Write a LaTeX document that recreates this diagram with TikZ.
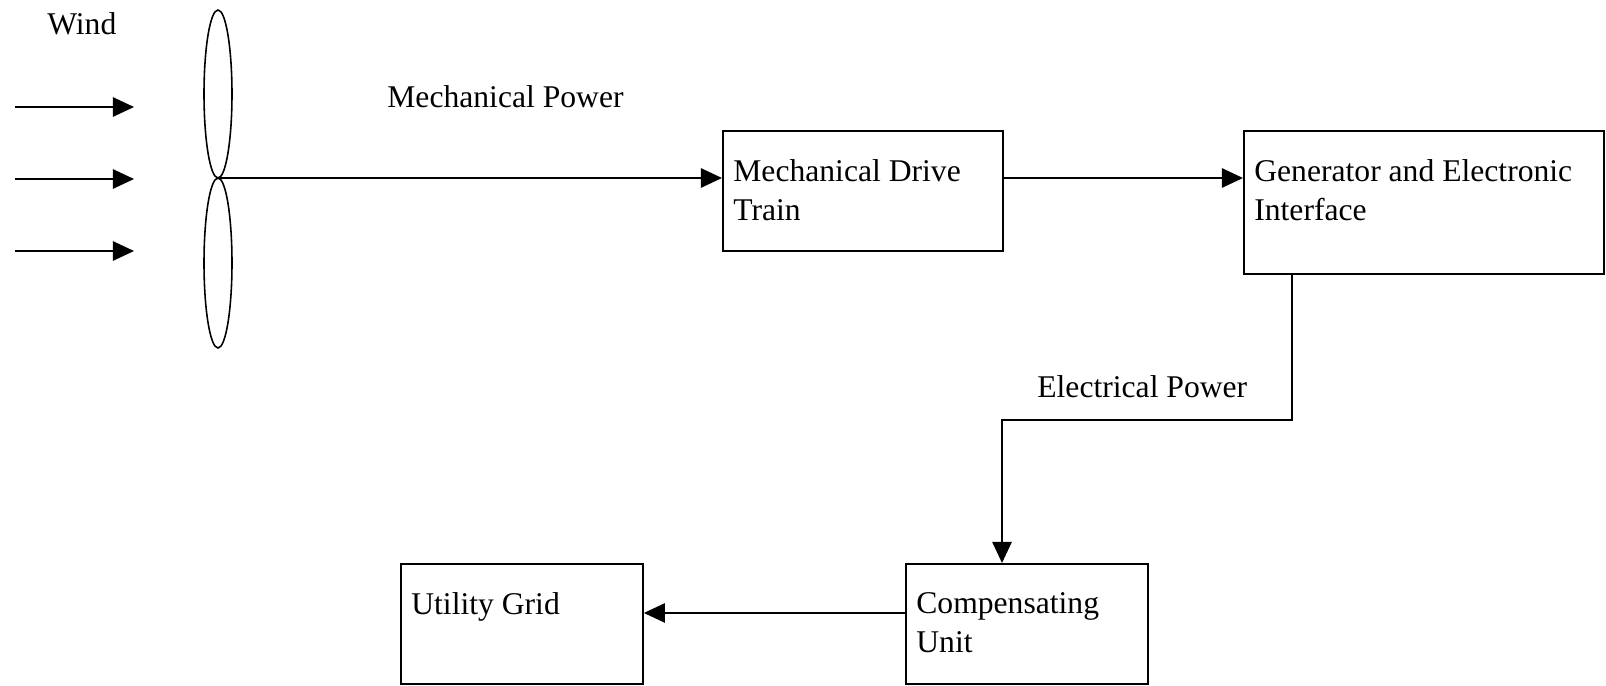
\documentclass[tikz,border=0pt]{standalone}
\usepackage{fontspec}
\setmainfont{Liberation Serif}
\usetikzlibrary{arrows.meta}
\newcommand{\blockfont}{\fontsize{18}{22.2}\selectfont}

\begin{document}
\begin{tikzpicture}[
			x=0.02cm, y=-0.02cm,
			block/.style={draw, line width=1.1pt, anchor=north west, inner sep=0pt},
			blocktext/.style={anchor=north west, inner sep=0pt, align=left, xshift=0.22cm, yshift=-0.59cm, font=\blockfont},
			plainlabel/.style={anchor=base west, inner sep=0pt, font=\blockfont},
			flow/.style={-{Triangle[length=12pt, width=11pt]}, line width=1pt},
			blade/.style={line width=0.9pt}
		]
		\useasboundingbox (0,0) rectangle (1606,686);
		% wind and rotor
		\node[plainlabel] (wind) at (47,35) {Wind};
		\foreach \i/\y in {1/107, 2/179, 3/251} {
			\coordinate (w\i) at (15,\y);
			\draw[flow] (w\i) -- ++(119,0);
		}
		\coordinate (hub) at (218,178);
		\draw[blade] (hub) ++(0,-84) ellipse [x radius=0.28cm, y radius=1.68cm];
		\draw[blade] (hub) ++(0,85) ellipse [x radius=0.28cm, y radius=1.70cm];
		% blocks
		\node[block, minimum width=5.6cm, minimum height=2.4cm] (mdt) at (722,130) {};
		\node[blocktext] (mdttext) at (mdt.north west) {Mechanical Drive\\Train};
		\node[block, minimum width=7.2cm, minimum height=2.86cm] (gen) at (1243,130) {};
		\node[blocktext] (gentext) at (gen.north west) {Generator and Electronic\\Interface};
		\node[block, minimum width=4.84cm, minimum height=2.4cm] (comp) at (905,563) {};
		\node[blocktext] (comptext) at (comp.north west) {Compensating\\Unit};
		\node[block, minimum width=4.84cm, minimum height=2.4cm] (grid) at (400,563) {};
		\node[blocktext] (gridtext) at (grid.north west) {Utility Grid};
		% power labels
		\node[plainlabel] (mechpower) at (387,108) {Mechanical Power};
		\node[plainlabel] (elecpower) at (1037,397) {Electrical Power};
		% connectors
		\coordinate (elbow) at (1002,420);
		\draw[flow] (hub) -- (hub -| mdt.west);
		\draw[flow] (hub -| mdt.east) -- (hub -| gen.west);
		\draw[flow] ([xshift=0.98cm]gen.south west) |- (elbow) -- (elbow |- comp.north);
		\draw[flow] ([yshift=0.22cm]comp.west) -- ([yshift=0.22cm]grid.east);
	\end{tikzpicture}
\end{document}
